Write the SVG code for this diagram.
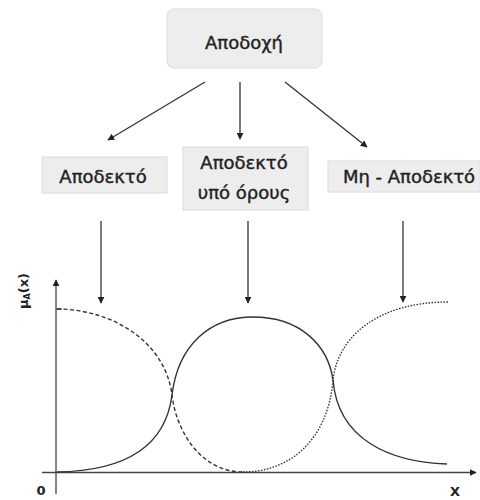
<svg xmlns="http://www.w3.org/2000/svg" width="480" height="500" viewBox="0 0 480 500">
<defs>
<marker id="ah" viewBox="0 0 10 10" refX="9" refY="5" markerWidth="7" markerHeight="7" markerUnits="userSpaceOnUse" orient="auto">
<path d="M0,0 L10,5 L0,10 z" fill="#222"/>
</marker>
</defs>
<style>
.box{fill:#ededed;stroke:#dcdcdc;stroke-width:1}
.lbl{font-family:"DejaVu Sans","Noto Sans",sans-serif;font-size:18px;fill:#222;stroke:#222;stroke-width:0.4;text-anchor:middle}
.conn{stroke:#333;stroke-width:1.3;fill:none;marker-end:url(#ah)}
.ax{stroke:#444;stroke-width:1.3;fill:none;marker-end:url(#ah)}
.crv{stroke:#333;stroke-width:1.4;fill:none}
.small{font-family:"DejaVu Sans","Noto Sans",sans-serif;font-size:13px;fill:#222;text-anchor:middle;font-weight:bold}
</style>
<rect width="480" height="500" fill="#fff"/>
<g id="node-apodochi">
<rect class="box" x="167" y="9" width="155" height="59" rx="7"/>
<text class="lbl" x="244" y="49">Αποδοχή</text>
</g>
<g id="node-apodekto">
<rect class="box" x="42" y="157" width="125" height="36"/>
<text class="lbl" x="103" y="183">Αποδεκτό</text>
</g>
<g id="node-yporous">
<rect class="box" x="183" y="147" width="125" height="63"/>
<text class="lbl" x="244" y="169">Αποδεκτό</text>
<text class="lbl" x="244" y="199">υπό όρους</text>
</g>
<g id="node-mi-apodekto">
<rect class="box" x="328" y="161" width="152" height="31"/>
<text class="lbl" x="409" y="183">Μη - Αποδεκτό</text>
</g>
<g id="connectors">
<line class="conn" x1="205" y1="82" x2="108" y2="140"/>
<line class="conn" x1="240" y1="82" x2="240" y2="139"/>
<line class="conn" x1="285" y1="82" x2="367" y2="147"/>
<line class="conn" x1="101" y1="221" x2="101" y2="303"/>
<line class="conn" x1="248" y1="221" x2="248" y2="303"/>
<line class="conn" x1="403" y1="221" x2="403" y2="302"/>
</g>
<g id="axes">
<line class="ax" x1="56" y1="494" x2="56" y2="280"/>
<line class="ax" x1="42" y1="472.5" x2="476" y2="472.5"/>
<line x1="56" y1="309" x2="62" y2="309" stroke="#444" stroke-width="1.2"/>
<text class="small" x="41" y="495">0</text>
<text class="small" x="455" y="496">X</text>
<text class="small" x="0" y="0" transform="translate(28,291) rotate(-90)">μ<tspan font-size="8" dy="2">A</tspan><tspan dy="-2">(x)</tspan></text>
</g>
<g id="curves">
<path class="crv" d="M57,472 C120,471 165,450 172,395 C178,345 210,317 253,317 C300,317 328,345 333,380 C338,440 390,462 447,464"/>
<path class="crv" stroke-dasharray="4 2.5" d="M57,309 C110,309 165,340 172,395 C176,430 200,472 243,472"/>
<path class="crv" stroke-dasharray="1.5 1.5" d="M243,472 C290,472 328,440 333,380 C338,335 380,302 448,302"/>
</g>
</svg>
